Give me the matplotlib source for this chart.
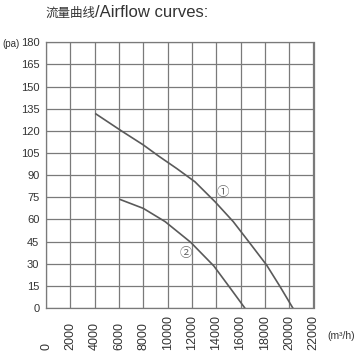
import matplotlib.pyplot as plt
from matplotlib import font_manager

# airflow (m3/h) and pressure (pa)
flow_1 = [4100, 6200, 8000, 9250, 10750, 12250, 13900, 15400, 16900, 18150, 19250, 20300]
pres_1 = [131.5, 120, 110.5, 103, 94.5, 85.5, 72, 58.5, 42.5, 29, 14.5, 0]
flow_2 = [6100, 8000, 9800, 11900, 13800, 15150, 16350]
pres_2 = [73.5, 67.5, 58.5, 44.5, 28.5, 13.5, 0]

x_ticks = list(range(0, 22001, 2000))
y_ticks = list(range(0, 181, 15))

curve_marks = [('①', 14580, 78), ('②', 11500, 37)]

installed = {f.name for f in font_manager.fontManager.ttflist}
narrow = 'Liberation Sans Narrow' if 'Liberation Sans Narrow' in installed else None

fig = plt.figure(figsize=(3.55, 3.55), dpi=100)
ax = fig.add_axes([46 / 355, 1 - 308 / 355, (313.5 - 46) / 355, (308 - 42.3) / 355])

grid_col = '#7a7a7a'
line_col = '#5a5a5a'
text_col = '#333333'

ax.set_xlim(0, 22000)
ax.set_ylim(0, 180)
ax.set_xticks(x_ticks)
ax.set_yticks(y_ticks)
ax.grid(True, color=grid_col, linewidth=0.9)
for s in ax.spines.values():
    s.set_color(grid_col)
    s.set_linewidth(0.9)

ax.plot(flow_1, pres_1, color=line_col, linewidth=1.2)
ax.plot(flow_2, pres_2, color=line_col, linewidth=1.2)

for txt, x, y in curve_marks:
    ax.text(x, y, txt, fontsize=9, color='#6a6a6a', ha='center', va='center',
            family=['Noto Sans CJK SC', 'DejaVu Sans'])

ax.tick_params(axis='both', length=0, colors=text_col)
ax.tick_params(axis='y', pad=4.8)
ax.tick_params(axis='x', pad=30)
if narrow:
    ax.set_yticklabels([str(v) for v in y_ticks], family=narrow, fontsize=9)
else:
    ax.set_yticklabels([str(v) for v in y_ticks], family='Liberation Sans', fontsize=8)
ax.set_xticklabels([str(v) for v in x_ticks], family='Liberation Sans', fontsize=9,
                   rotation=90, va='bottom', ha='center')

fig.text(20 / 355, 1 - 44 / 355, '(pa)', fontsize=7, family='Liberation Sans',
         color=text_col, ha='right', va='center')
fig.text(327 / 355, 1 - 336 / 355, '(m³/h)', fontsize=7.5, family='Liberation Sans',
         color=text_col, ha='left', va='center')

# title in two pieces, the chinese part is narrower in the picture
fig.text(95 / 355, 1 - 17 / 355, '流量曲线', fontsize=9, family='Noto Sans CJK SC',
         color=text_col, ha='right', va='baseline')
fig.text(95 / 355, 1 - 17 / 355, '/Airflow curves:', fontsize=12, family='Liberation Sans',
         color=text_col, ha='left', va='baseline')

fig.savefig('out.png', dpi=100)
